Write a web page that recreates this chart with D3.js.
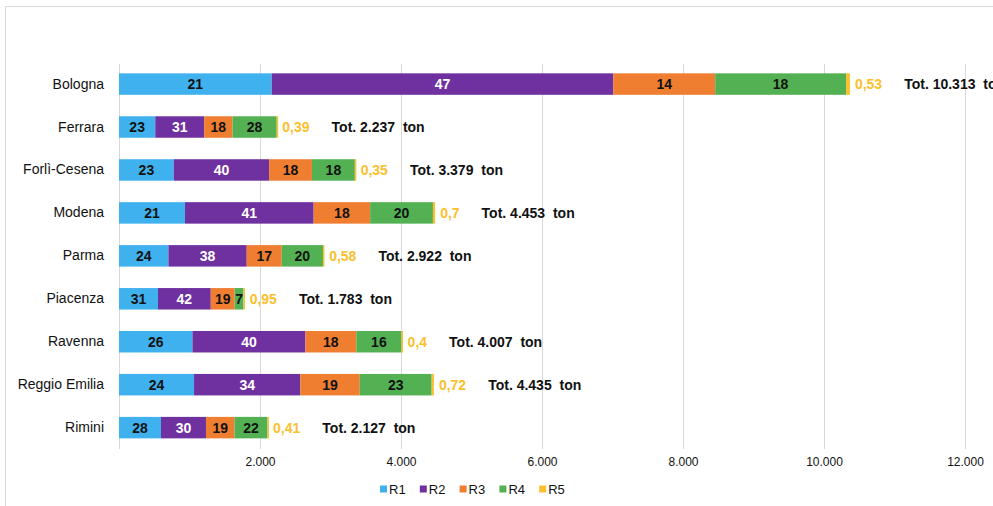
<!DOCTYPE html>
<html>
<head>
<meta charset="utf-8">
<script src="https://cdn.jsdelivr.net/npm/d3@7"></script>
<style>
  body { margin: 0; background: #fff; }
  svg { font-family: "Liberation Sans", Arial, sans-serif; }
</style>
</head>
<body>
<svg id="chart"></svg>
<script>
// Data (percentages per province, totals in tons)
const provinces = ["Bologna", "Ferrara", "Forlì-Cesena", "Modena", "Parma", "Piacenza", "Ravenna", "Reggio Emilia", "Rimini"];
const totals = [10313, 2237, 3379, 4453, 2922, 1783, 4007, 4435, 2127];
const r1 = [21, 23, 23, 21, 24, 31, 26, 24, 28];
const r2 = [47, 31, 40, 41, 38, 42, 40, 34, 30];
const r3 = [14, 18, 18, 18, 17, 19, 18, 19, 19];
const r4 = [18, 28, 18, 20, 20, 7, 16, 23, 22];
const r5 = [0.53, 0.39, 0.35, 0.7, 0.58, 0.95, 0.4, 0.72, 0.41];
const seriesNames = ["R1", "R2", "R3", "R4", "R5"];
const xTicks = [2000, 4000, 6000, 8000, 10000, 12000];
const gridTicks = [0, 2000, 4000, 6000, 8000, 10000, 12000];

const colors = ["#40b1ef", "#7031a0", "#ef7e31", "#53b153", "#fcbf2d"];
const labelColors = ["#111", "#fff", "#111", "#111", "#fcbf2d"];

const width = 993, height = 506;
const it = d3.formatLocale({ decimal: ",", thousands: ".", grouping: [3], currency: ["", "€"] });
const fmt = it.format(",d");

const svg = d3.select("#chart").attr("width", width).attr("height", height);

// outer frame (cut off at the right and bottom in the reference)
svg.append("rect")
  .attr("x", 5.5).attr("y", 6.5)
  .attr("width", 1100).attr("height", 700)
  .attr("fill", "none").attr("stroke", "#d9d9d9");

const x = d3.scaleLinear().domain([0, 12000]).range([119, 965]);
const y = d3.scaleBand().domain(provinces).range([62.6, 449.1])
  .paddingInner(0.5).paddingOuter(0.25);

// gridlines
svg.append("g").selectAll("line")
  .data(gridTicks)
  .enter().append("line")
  .attr("x1", d => x(d) + 0.5).attr("x2", d => x(d) + 0.5)
  .attr("y1", 64).attr("y2", 449)
  .attr("stroke", "#d9d9d9");

// x tick labels
const xAxis = d3.axisBottom(x).tickValues(xTicks).tickFormat(fmt).tickSize(0).tickPadding(0);
const gx = svg.append("g").attr("transform", "translate(0,457)").call(xAxis);
gx.select(".domain").remove();
gx.selectAll("text")
  .attr("font-family", "'Liberation Sans Narrow', 'Liberation Sans', Arial, sans-serif")
  .attr("font-size", 12).attr("fill", "#111");

// category labels
const yAxis = d3.axisLeft(y).tickSize(0).tickPadding(0);
const gy = svg.append("g").attr("transform", "translate(104,0)").call(yAxis);
gy.select(".domain").remove();
gy.selectAll("text").attr("font-size", 14).attr("fill", "#111")
  .attr("font-family", "'Liberation Sans', Arial, sans-serif");

// build stacked segments in tons
const series = [r1, r2, r3, r4, r5];
const rows = provinces.map((p, i) => {
  let acc = 0;
  const segs = series.map((s, k) => {
    const v = totals[i] * s[i] / 100;
    const seg = { province: p, key: k, pct: s[i], x0: acc, x1: acc + v };
    acc += v;
    return seg;
  });
  return { province: p, total: totals[i], end: acc, segs: segs };
});

const rowG = svg.append("g").selectAll("g")
  .data(rows)
  .enter().append("g");

rowG.selectAll("rect")
  .data(d => d.segs)
  .enter().append("rect")
  .attr("x", d => x(d.x0))
  .attr("y", d => y(d.province))
  .attr("width", d => Math.max(x(d.x1) - x(d.x0), 1.5))
  .attr("height", y.bandwidth())
  .attr("fill", d => colors[d.key]);

// labels inside R1-R4
rowG.selectAll("text.seg")
  .data(d => d.segs.filter(s => s.key < 4))
  .enter().append("text")
  .attr("class", "seg")
  .attr("x", d => (x(d.x0) + x(d.x1)) / 2)
  .attr("y", d => y(d.province) + y.bandwidth() / 2)
  .attr("dy", "0.36em")
  .attr("text-anchor", "middle")
  .attr("font-size", 14).attr("font-weight", "bold")
  .attr("fill", d => labelColors[d.key])
  .text(d => d.pct);

// R5 label outside the bar, then the total
rowG.each(function (d) {
  const g = d3.select(this);
  const cy = y(d.province) + y.bandwidth() / 2;
  const r5t = g.append("text")
    .attr("x", x(d.end) + 5)
    .attr("y", cy).attr("dy", "0.36em")
    .attr("font-size", 14).attr("font-weight", "bold")
    .attr("fill", labelColors[4])
    .text(String(d.segs[4].pct).replace(".", ","));
  const w = r5t.node().getComputedTextLength();
  g.append("text")
    .attr("x", x(d.end) + 5 + w + 22)
    .attr("y", cy).attr("dy", "0.36em")
    .attr("font-size", 14).attr("font-weight", "bold")
    .attr("fill", "#111")
    .style("white-space", "pre")
    .text("Tot. " + fmt(d.total) + "  ton");
});

// legend
const legend = svg.append("g").attr("transform", "translate(380,489)");
const li = legend.selectAll("g")
  .data(seriesNames)
  .enter().append("g")
  .attr("transform", (d, i) => `translate(${i * 39.8},0)`);
li.append("rect")
  .attr("x", 0).attr("y", -3.5)
  .attr("width", 7).attr("height", 7)
  .attr("fill", (d, i) => colors[i]);
li.append("text")
  .attr("x", 9).attr("dy", "0.36em")
  .attr("font-family", "'Liberation Sans Narrow', 'Liberation Sans', Arial, sans-serif")
  .attr("font-size", 13).attr("fill", "#111")
  .text(d => d);
</script>
</body>
</html>
